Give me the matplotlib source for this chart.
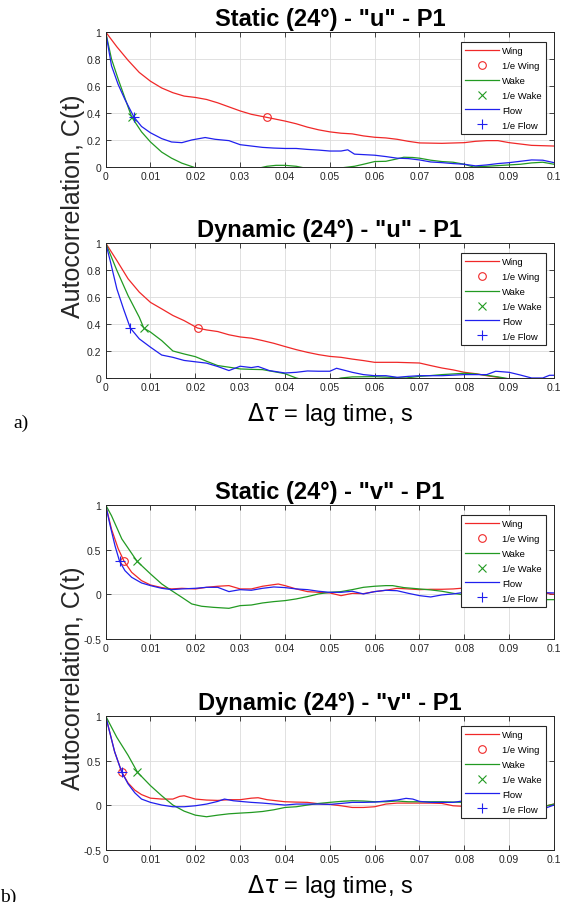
import matplotlib
matplotlib.use("Agg")
import matplotlib.pyplot as plt
import numpy as np

plt.rcParams['font.family'] = ['Liberation Sans', 'DejaVu Sans']
plt.rcParams['mathtext.fontset'] = 'dejavusans'

INV_E = np.exp(-1.0)

# ---- Static (24 deg) - "u" - P1 ----
su_wing_lag = [0, 0.0025, 0.005, 0.0075, 0.01, 0.0125, 0.015, 0.0175, 0.02, 0.0225, 0.025, 0.0275,
               0.03, 0.0325, 0.036, 0.04, 0.0425, 0.045, 0.0475, 0.05, 0.0525, 0.055, 0.0575, 0.06,
               0.0625, 0.065, 0.0675, 0.07, 0.075, 0.08, 0.0825, 0.085, 0.0875, 0.09, 0.0925, 0.095, 0.1]
su_wing = [1.0, 0.89, 0.79, 0.70, 0.635, 0.585, 0.55, 0.525, 0.515, 0.50, 0.475, 0.445,
           0.415, 0.39, 0.367, 0.34, 0.32, 0.295, 0.275, 0.26, 0.25, 0.245, 0.23, 0.22,
           0.215, 0.205, 0.19, 0.178, 0.175, 0.18, 0.19, 0.195, 0.195, 0.18, 0.17, 0.16, 0.155]
su_wake_lag = [0, 0.0013, 0.0028, 0.0043, 0.0058, 0.008, 0.01, 0.0125, 0.0147, 0.017, 0.0195, 0.0225,
               0.025, 0.03, 0.034, 0.036, 0.038, 0.04, 0.0425, 0.044, 0.0475, 0.05, 0.053, 0.0555,
               0.0575, 0.06, 0.0625, 0.065, 0.0665, 0.0685, 0.07, 0.0725, 0.075, 0.0775, 0.08, 0.082,
               0.085, 0.0875, 0.09, 0.0925, 0.095, 0.0975, 0.1]
su_wake = [1.0, 0.80, 0.65, 0.51, 0.37, 0.26, 0.185, 0.11, 0.065, 0.028, 0.0, -0.04,
           -0.06, -0.05, -0.01, 0.005, 0.012, 0.012, 0.005, -0.005, -0.02, -0.02, -0.005, 0.005,
           0.02, 0.04, 0.042, 0.06, 0.072, 0.07, 0.065, 0.05, 0.04, 0.035, 0.02, 0.0,
           0.005, 0.01, 0.015, 0.02, 0.03, 0.035, 0.02]
su_flow_lag = [0, 0.0013, 0.0028, 0.0043, 0.0063, 0.008, 0.01, 0.0125, 0.0147, 0.017, 0.0192, 0.0222,
               0.0244, 0.0275, 0.03, 0.0325, 0.035, 0.0375, 0.04, 0.0425, 0.045, 0.0475, 0.05, 0.0525,
               0.054, 0.0555, 0.06, 0.0625, 0.065, 0.0675, 0.07, 0.0725, 0.075, 0.0775, 0.08, 0.0825,
               0.085, 0.0875, 0.09, 0.0925, 0.095, 0.0975, 0.1]
su_flow = [1.0, 0.75, 0.61, 0.50, 0.37, 0.30, 0.253, 0.21, 0.185, 0.18, 0.20, 0.218,
           0.205, 0.195, 0.165, 0.155, 0.145, 0.14, 0.137, 0.137, 0.13, 0.125, 0.118, 0.118,
           0.127, 0.095, 0.087, 0.077, 0.065, 0.062, 0.052, 0.037, 0.032, 0.025, 0.02, 0.008,
           0.015, 0.025, 0.032, 0.042, 0.052, 0.05, 0.032]
su_marks = [0.036, 0.0058, 0.0063]

# ---- Dynamic (24 deg) - "u" - P1 ----
du_wing_lag = [0, 0.0025, 0.005, 0.0075, 0.01, 0.0125, 0.015, 0.0175, 0.0205, 0.0225, 0.025, 0.0275,
               0.03, 0.0325, 0.035, 0.0375, 0.04, 0.0425, 0.045, 0.0475, 0.05, 0.0525, 0.055, 0.0575,
               0.06, 0.065, 0.07, 0.0725, 0.075, 0.0775, 0.08, 0.0825, 0.085, 0.0875, 0.089, 0.092, 0.1]
du_wing = [1.0, 0.87, 0.735, 0.636, 0.56, 0.512, 0.463, 0.425, 0.37, 0.356, 0.344, 0.32,
           0.304, 0.295, 0.277, 0.257, 0.233, 0.21, 0.19, 0.173, 0.16, 0.153, 0.14, 0.129,
           0.116, 0.116, 0.111, 0.092, 0.074, 0.06, 0.042, 0.032, 0.017, 0.005, -0.005, -0.02, -0.04]
du_wake_lag = [0, 0.0025, 0.005, 0.0075, 0.0085, 0.01, 0.0125, 0.015, 0.0175, 0.02, 0.0225, 0.025,
               0.0275, 0.03, 0.0325, 0.035, 0.0375, 0.04, 0.0425, 0.045, 0.05, 0.0525, 0.055, 0.06,
               0.065, 0.067, 0.07, 0.0725, 0.075, 0.0775, 0.08, 0.0825, 0.085, 0.0875, 0.089, 0.092, 0.1]
du_wake = [1.0, 0.797, 0.61, 0.45, 0.37, 0.34, 0.277, 0.20, 0.178, 0.158, 0.124, 0.092,
           0.08, 0.067, 0.064, 0.062, 0.047, 0.032, 0.0, -0.02, -0.02, 0.0, 0.008, 0.01,
           0.003, 0.0, 0.012, 0.018, 0.025, 0.03, 0.035, 0.03, 0.02, 0.008, 0.0, -0.02, -0.03]
du_flow_lag = [0, 0.001, 0.0025, 0.004, 0.0055, 0.0075, 0.01, 0.0125, 0.015, 0.0175, 0.02, 0.0225,
               0.025, 0.0275, 0.03, 0.0325, 0.034, 0.0365, 0.04, 0.0425, 0.045, 0.0475, 0.05, 0.0515,
               0.0535, 0.055, 0.0575, 0.06, 0.0625, 0.065, 0.0675, 0.07, 0.075, 0.08, 0.0825, 0.085,
               0.087, 0.09, 0.0925, 0.095, 0.0975, 0.099, 0.1]
du_flow = [1.0, 0.87, 0.66, 0.51, 0.37, 0.29, 0.228, 0.17, 0.153, 0.13, 0.12, 0.11,
           0.085, 0.055, 0.087, 0.077, 0.085, 0.055, 0.037, 0.042, 0.052, 0.05, 0.05, 0.072,
           0.055, 0.042, 0.025, 0.017, 0.017, 0.005, 0.012, 0.017, 0.017, 0.025, 0.025, 0.025,
           0.05, 0.042, 0.022, 0.0, 0.0, 0.02, 0.02]
du_marks = [0.0205, 0.0085, 0.0055]

# ---- Static (24 deg) - "v" - P1 ----
sv_wing_lag = [0, 0.0013, 0.0028, 0.0041, 0.0058, 0.008, 0.01, 0.0125, 0.0147, 0.017, 0.02, 0.0225,
               0.025, 0.0275, 0.03, 0.0325, 0.035, 0.0375, 0.0385, 0.04, 0.0425, 0.045, 0.0475, 0.05,
               0.0525, 0.055, 0.0575, 0.06, 0.0625, 0.065, 0.0675, 0.07, 0.0725, 0.075, 0.0775, 0.08,
               0.085, 0.09, 0.095, 0.1]
sv_wing = [1.0, 0.73, 0.51, 0.37, 0.246, 0.153, 0.104, 0.075, 0.06, 0.067, 0.06, 0.078,
           0.09, 0.097, 0.06, 0.06, 0.09, 0.108, 0.115, 0.097, 0.06, 0.03, 0.022, 0.015,
           -0.015, 0.01, 0.007, 0.03, 0.045, 0.067, 0.06, 0.052, 0.056, 0.056, 0.06, 0.07,
           0.06, 0.05, 0.03, 0.0]
sv_wake_lag = [0, 0.0013, 0.0036, 0.007, 0.01, 0.0125, 0.0147, 0.017, 0.0192, 0.0214, 0.024, 0.0275,
               0.03, 0.0325, 0.035, 0.0375, 0.04, 0.0425, 0.045, 0.0475, 0.05, 0.0525, 0.055, 0.0575,
               0.06, 0.0625, 0.064, 0.0665, 0.07, 0.0725, 0.075, 0.0775, 0.08, 0.0825, 0.085, 0.0875,
               0.09, 0.0925, 0.095, 0.1]
sv_wake = [1.0, 0.88, 0.62, 0.37, 0.228, 0.116, 0.041, -0.034, -0.108, -0.134, -0.146, -0.157,
           -0.127, -0.12, -0.097, -0.082, -0.071, -0.052, -0.026, 0.004, 0.022, 0.03, 0.052, 0.078,
           0.09, 0.097, 0.097, 0.075, 0.06, 0.049, 0.034, 0.011, -0.007, -0.026, -0.037, -0.052,
           -0.071, -0.063, -0.06, -0.06]
sv_flow_lag = [0, 0.001, 0.0021, 0.0031, 0.0043, 0.0058, 0.008, 0.01, 0.0125, 0.0147, 0.017, 0.02,
               0.0225, 0.025, 0.0275, 0.03, 0.0325, 0.035, 0.0375, 0.04, 0.0425, 0.045, 0.0475, 0.05,
               0.0525, 0.055, 0.0575, 0.06, 0.0625, 0.065, 0.0675, 0.07, 0.0725, 0.075, 0.0775, 0.08,
               0.09, 0.1]
sv_flow = [1.0, 0.77, 0.54, 0.37, 0.265, 0.19, 0.127, 0.097, 0.067, 0.052, 0.06, 0.067,
           0.078, 0.078, 0.03, 0.052, 0.045, 0.067, 0.082, 0.075, 0.06, 0.052, 0.034, 0.022,
           0.022, 0.034, 0.004, 0.03, 0.045, 0.04, 0.011, -0.015, -0.03, -0.007, 0.004, 0.022,
           0.03, 0.015]
sv_marks = [0.0041, 0.007, 0.0031]

# ---- Dynamic (24 deg) - "v" - P1 ----
dv_wing_lag = [0, 0.001, 0.002, 0.0036, 0.005, 0.0065, 0.008, 0.01, 0.0125, 0.015, 0.0165, 0.0175,
               0.02, 0.0225, 0.025, 0.0275, 0.03, 0.0325, 0.034, 0.036, 0.04, 0.0425, 0.045, 0.0475,
               0.05, 0.0525, 0.055, 0.0575, 0.06, 0.0625, 0.065, 0.0675, 0.07, 0.0725, 0.075, 0.0775,
               0.08, 0.085, 0.09, 0.0925, 0.095, 0.0975, 0.1]
dv_wing = [1.0, 0.80, 0.60, 0.37, 0.25, 0.17, 0.12, 0.08, 0.07, 0.07, 0.10, 0.107,
           0.07, 0.059, 0.055, 0.063, 0.063, 0.08, 0.085, 0.063, 0.04, 0.036, 0.033, 0.018,
           0.01, -0.005, -0.024, -0.024, -0.016, 0.014, 0.025, 0.025, 0.025, 0.025, 0.021, -0.005,
           -0.012, -0.01, -0.02, -0.024, -0.024, -0.016, 0.014]
dv_wake_lag = [0, 0.0025, 0.005, 0.0071, 0.01, 0.0125, 0.015, 0.0175, 0.02, 0.0225, 0.025, 0.0275,
               0.03, 0.0325, 0.035, 0.0375, 0.04, 0.0425, 0.045, 0.0475, 0.05, 0.0525, 0.055, 0.0575,
               0.06, 0.0625, 0.065, 0.0675, 0.07, 0.075, 0.08, 0.085, 0.0875, 0.09, 0.0925, 0.095,
               0.0975, 0.1]
dv_wake = [1.0, 0.76, 0.56, 0.37, 0.22, 0.107, 0.003, -0.065, -0.11, -0.128, -0.11, -0.095,
           -0.087, -0.08, -0.069, -0.05, -0.024, -0.016, 0.003, 0.021, 0.033, 0.044, 0.051, 0.048,
           0.04, 0.04, 0.048, 0.04, 0.04, 0.04, 0.033, -0.01, -0.024, -0.042, -0.035, -0.024,
           -0.016, 0.014]
dv_flow_lag = [0, 0.001, 0.002, 0.0036, 0.005, 0.0065, 0.008, 0.01, 0.0125, 0.015, 0.0175, 0.02,
               0.0225, 0.025, 0.0265, 0.0285, 0.03, 0.0325, 0.035, 0.0375, 0.04, 0.0425, 0.045, 0.0475,
               0.05, 0.0525, 0.055, 0.0575, 0.06, 0.0625, 0.065, 0.067, 0.0685, 0.07, 0.0725, 0.075,
               0.0775, 0.08, 0.085, 0.09, 0.0925, 0.095, 0.0975, 0.1]
dv_flow = [1.0, 0.80, 0.60, 0.37, 0.24, 0.14, 0.07, 0.033, 0.003, -0.016, -0.016, -0.005,
           0.014, 0.044, 0.07, 0.051, 0.044, 0.033, 0.025, 0.014, 0.003, 0.014, 0.014, 0.014,
           0.01, 0.021, 0.033, 0.033, 0.036, 0.048, 0.059, 0.078, 0.07, 0.044, 0.033, 0.033,
           0.033, 0.051, 0.02, -0.042, -0.06, -0.06, -0.042, 0.003]
dv_marks = [0.0036, 0.0071, 0.0036]

titles = ['Static (24°) - "u" - P1', 'Dynamic (24°) - "u" - P1',
          'Static (24°) - "v" - P1', 'Dynamic (24°) - "v" - P1']
x_ticks = [0, 0.01, 0.02, 0.03, 0.04, 0.05, 0.06, 0.07, 0.08, 0.09, 0.1]
x_tick_labels = ['0', '0.01', '0.02', '0.03', '0.04', '0.05', '0.06', '0.07', '0.08', '0.09', '0.1']
u_ticks = [0, 0.2, 0.4, 0.6, 0.8, 1]
u_tick_labels = ['0', '0.2', '0.4', '0.6', '0.8', '1']
v_ticks = [-0.5, 0, 0.5, 1]
v_tick_labels = ['-0.5', '0', '0.5', '1']

panels = [
    (su_wing_lag, su_wing, su_wake_lag, su_wake, su_flow_lag, su_flow, su_marks),
    (du_wing_lag, du_wing, du_wake_lag, du_wake, du_flow_lag, du_flow, du_marks),
    (sv_wing_lag, sv_wing, sv_wake_lag, sv_wake, sv_flow_lag, sv_flow, sv_marks),
    (dv_wing_lag, dv_wing, dv_wake_lag, dv_wake, dv_flow_lag, dv_flow, dv_marks),
]

RED = '#f02828'
GREEN = '#229a22'
BLUE = '#2020ee'
DARK = '#262626'

fig = plt.figure(figsize=(5.65, 9.03), dpi=100)
rects = [(0.187, 0.8140, 0.7935, 0.1495),
         (0.187, 0.5803, 0.7935, 0.1495),
         (0.187, 0.2913, 0.7935, 0.1484),
         (0.187, 0.0576, 0.7935, 0.1484)]

for i, (rect, data) in enumerate(zip(rects, panels)):
    wl, w, kl, k, fl, f, marks = data
    ax = fig.add_axes(rect)
    ax.plot(wl, w, color=RED, lw=0.9, label='Wing')
    ax.plot([marks[0]], [INV_E], 'o', ms=5.5, mfc='none', mec=RED, mew=0.8, ls='none', label='1/e Wing')
    ax.plot(kl, k, color=GREEN, lw=0.9, label='Wake')
    ax.plot([marks[1]], [INV_E], 'x', ms=5.5, color=GREEN, mew=0.8, ls='none', label='1/e Wake')
    ax.plot(fl, f, color=BLUE, lw=0.9, label='Flow')
    ax.plot([marks[2]], [INV_E], '+', ms=6.5, color=BLUE, mew=0.8, ls='none', label='1/e Flow')

    ax.set_xlim(0, 0.1)
    ax.set_xticks(x_ticks)
    ax.set_xticklabels(x_tick_labels)
    if i < 2:
        ax.set_ylim(0, 1)
        ax.set_yticks(u_ticks)
        ax.set_yticklabels(u_tick_labels)
    else:
        ax.set_ylim(-0.5, 1)
        ax.set_yticks(v_ticks)
        ax.set_yticklabels(v_tick_labels)

    ax.grid(True, color='#dcdcdc', lw=0.6)
    ax.set_axisbelow(True)
    ax.tick_params(direction='in', top=True, right=True, length=3.5, width=0.6,
                   labelsize=7.5, colors=DARK, pad=3)
    for s in ax.spines.values():
        s.set_color(DARK)
        s.set_linewidth(0.7)
    ax.set_title(titles[i], fontsize=17, fontweight='bold', pad=5)

    leg = ax.legend(loc='upper right', bbox_to_anchor=(0.982, 0.925), fontsize=6.8,
                    fancybox=False, framealpha=1, edgecolor=DARK, numpoints=1,
                    handlelength=3.6, handletextpad=0.3, labelspacing=0.62,
                    borderpad=0.45, borderaxespad=0)
    leg.get_frame().set_linewidth(0.8)

    if i in (1, 3):
        ax.set_xlabel(r'$\Delta\tau$ = lag time, s', fontsize=17, labelpad=6)

fig.text(73 / 565, 1 - 206 / 903, 'Autocorrelation, C(t)', rotation=90, fontsize=18,
         ha='center', va='center', color=DARK)
fig.text(73 / 565, 1 - 678 / 903, 'Autocorrelation, C(t)', rotation=90, fontsize=18,
         ha='center', va='center', color=DARK)
fig.text(21 / 565, 1 - 423 / 903, 'a)', family='Liberation Serif', fontsize=14,
         ha='center', va='center')
fig.text(8 / 565, 1 - 897 / 903, 'b)', family='Liberation Serif', fontsize=14,
         ha='center', va='center')

fig.savefig('out.png', dpi=100)
